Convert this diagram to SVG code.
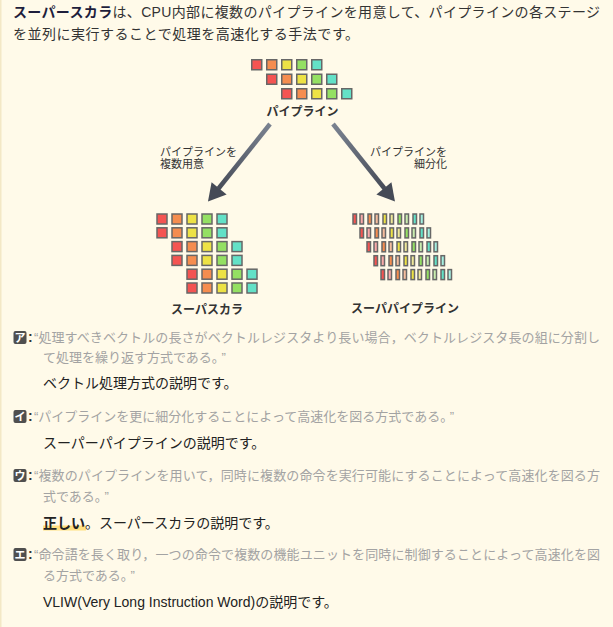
<svg xmlns="http://www.w3.org/2000/svg" width="613" height="627" viewBox="0 0 613 627">
<defs>
<style>
text{font-family:"Liberation Sans","Noto Sans CJK JP",sans-serif}
.h{font-size:14px;fill:#333}
.hb{font-weight:bold;fill:#1e1e3c}
.lbl{font-size:12px;font-weight:bold;fill:#333;text-anchor:middle}
.al{font-size:11px;fill:#333}
.q{font-size:13px;fill:#a3a3a3}
.ans{font-size:14px;fill:#222}
.b{fill:#4f4f4f}
.bt{font-size:11px;font-weight:bold;fill:#fff;text-anchor:middle}
.col{font-size:14px;font-weight:bold;fill:#333}
.sq rect{stroke:#676767;stroke-width:1.5}
.r{fill:#f45452}.o{fill:#f58d4f}.y{fill:#ede245}.g{fill:#94e063}.c{fill:#63e1c7}
.rl{fill:#f9aaa9}.ol{fill:#f5bd9d}.yl{fill:#efe899}.gl{fill:#c9edaf}.cl{fill:#a5f0e1}
</style>
<linearGradient id="gl" gradientUnits="userSpaceOnUse" x1="270" y1="124" x2="218" y2="189">
<stop offset="0" stop-color="#7a8290"/><stop offset="1" stop-color="#474c58"/>
</linearGradient>
<linearGradient id="gr" gradientUnits="userSpaceOnUse" x1="333" y1="124" x2="385" y2="189">
<stop offset="0" stop-color="#7a8290"/><stop offset="1" stop-color="#474c58"/>
</linearGradient>
</defs>
<rect width="613" height="627" fill="#fffae9"/>
<rect x="0" y="0" width="1.5" height="627" fill="#f3e8c6"/>

<g id="intro">
<text class="h" x="13" y="17" textLength="587" lengthAdjust="spacing"><tspan class="hb">スーパースカラ</tspan>は、CPU内部に複数のパイプラインを用意して、パイプラインの各ステージ</text>
<text class="h" x="13" y="39" textLength="346" lengthAdjust="spacing">を並列に実行することで処理を高速化する手法です。</text>
</g>

<g id="pipeline" class="sq">
<g transform="translate(251.75,59.75)"><rect class="r" x="0" width="10" height="10"/><rect class="o" x="15" width="10" height="10"/><rect class="y" x="30" width="10" height="10"/><rect class="g" x="45" width="10" height="10"/><rect class="c" x="60" width="10" height="10"/></g>
<g transform="translate(266.75,74.25)"><rect class="r" x="0" width="10" height="10"/><rect class="o" x="15" width="10" height="10"/><rect class="y" x="30" width="10" height="10"/><rect class="g" x="45" width="10" height="10"/><rect class="c" x="60" width="10" height="10"/></g>
<g transform="translate(281.75,88.75)"><rect class="r" x="0" width="10" height="10"/><rect class="o" x="15" width="10" height="10"/><rect class="y" x="30" width="10" height="10"/><rect class="g" x="45" width="10" height="10"/><rect class="c" x="60" width="10" height="10"/></g>
<text class="lbl" x="302.5" y="115.5">パイプライン</text>
</g>

<g id="connectors">
<line x1="270" y1="124" x2="218.5" y2="188.5" stroke="url(#gl)" stroke-width="4.5"/>
<path d="M226.6,194.5 L208,201.5 L211.6,182.3 z" fill="#454a56"/>
<line x1="333" y1="124" x2="384.5" y2="188.5" stroke="url(#gr)" stroke-width="4.5"/>
<path d="M391.4,182.3 L395,201.5 L376.4,194.5 z" fill="#454a56"/>
<text class="al" x="160" y="155.5">パイプラインを</text>
<text class="al" x="160" y="168">複数用意</text>
<text class="al" x="447" y="155.5" text-anchor="end">パイプラインを</text>
<text class="al" x="447" y="168" text-anchor="end">細分化</text>
</g>

<g id="superscalar" class="sq">
<g transform="translate(157,214)"><rect class="r" x="0" width="10" height="10"/><rect class="o" x="15" width="10" height="10"/><rect class="y" x="30" width="10" height="10"/><rect class="g" x="45" width="10" height="10"/><rect class="c" x="60" width="10" height="10"/></g>
<g transform="translate(157,227.8)"><rect class="r" x="0" width="10" height="10"/><rect class="o" x="15" width="10" height="10"/><rect class="y" x="30" width="10" height="10"/><rect class="g" x="45" width="10" height="10"/><rect class="c" x="60" width="10" height="10"/></g>
<g transform="translate(172,241.6)"><rect class="r" x="0" width="10" height="10"/><rect class="o" x="15" width="10" height="10"/><rect class="y" x="30" width="10" height="10"/><rect class="g" x="45" width="10" height="10"/><rect class="c" x="60" width="10" height="10"/></g>
<g transform="translate(172,255.4)"><rect class="r" x="0" width="10" height="10"/><rect class="o" x="15" width="10" height="10"/><rect class="y" x="30" width="10" height="10"/><rect class="g" x="45" width="10" height="10"/><rect class="c" x="60" width="10" height="10"/></g>
<g transform="translate(187,269.2)"><rect class="r" x="0" width="10" height="10"/><rect class="o" x="15" width="10" height="10"/><rect class="y" x="30" width="10" height="10"/><rect class="g" x="45" width="10" height="10"/><rect class="c" x="60" width="10" height="10"/></g>
<g transform="translate(187,283)"><rect class="r" x="0" width="10" height="10"/><rect class="o" x="15" width="10" height="10"/><rect class="y" x="30" width="10" height="10"/><rect class="g" x="45" width="10" height="10"/><rect class="c" x="60" width="10" height="10"/></g>
<text class="lbl" x="207" y="313.5">スーパスカラ</text>
</g>

<g id="superpipeline" class="sq">
<g transform="translate(353,214)"><rect class="r" x="0" width="3.5" height="10"/><rect class="rl" x="7" width="3.5" height="10"/><rect class="o" x="15" width="3.5" height="10"/><rect class="ol" x="22" width="3.5" height="10"/><rect class="y" x="30" width="3.5" height="10"/><rect class="yl" x="37" width="3.5" height="10"/><rect class="g" x="45" width="3.5" height="10"/><rect class="gl" x="52" width="3.5" height="10"/><rect class="c" x="60" width="3.5" height="10"/><rect class="cl" x="67" width="3.5" height="10"/></g>
<g transform="translate(360,227.9)"><rect class="r" x="0" width="3.5" height="10"/><rect class="rl" x="7" width="3.5" height="10"/><rect class="o" x="15" width="3.5" height="10"/><rect class="ol" x="22" width="3.5" height="10"/><rect class="y" x="30" width="3.5" height="10"/><rect class="yl" x="37" width="3.5" height="10"/><rect class="g" x="45" width="3.5" height="10"/><rect class="gl" x="52" width="3.5" height="10"/><rect class="c" x="60" width="3.5" height="10"/><rect class="cl" x="67" width="3.5" height="10"/></g>
<g transform="translate(367,241.8)"><rect class="r" x="0" width="3.5" height="10"/><rect class="rl" x="7" width="3.5" height="10"/><rect class="o" x="15" width="3.5" height="10"/><rect class="ol" x="22" width="3.5" height="10"/><rect class="y" x="30" width="3.5" height="10"/><rect class="yl" x="37" width="3.5" height="10"/><rect class="g" x="45" width="3.5" height="10"/><rect class="gl" x="52" width="3.5" height="10"/><rect class="c" x="60" width="3.5" height="10"/><rect class="cl" x="67" width="3.5" height="10"/></g>
<g transform="translate(374,255.7)"><rect class="r" x="0" width="3.5" height="10"/><rect class="rl" x="7" width="3.5" height="10"/><rect class="o" x="15" width="3.5" height="10"/><rect class="ol" x="22" width="3.5" height="10"/><rect class="y" x="30" width="3.5" height="10"/><rect class="yl" x="37" width="3.5" height="10"/><rect class="g" x="45" width="3.5" height="10"/><rect class="gl" x="52" width="3.5" height="10"/><rect class="c" x="60" width="3.5" height="10"/><rect class="cl" x="67" width="3.5" height="10"/></g>
<g transform="translate(381,269.6)"><rect class="r" x="0" width="3.5" height="10"/><rect class="rl" x="7" width="3.5" height="10"/><rect class="o" x="15" width="3.5" height="10"/><rect class="ol" x="22" width="3.5" height="10"/><rect class="y" x="30" width="3.5" height="10"/><rect class="yl" x="37" width="3.5" height="10"/><rect class="g" x="45" width="3.5" height="10"/><rect class="gl" x="52" width="3.5" height="10"/><rect class="c" x="60" width="3.5" height="10"/><rect class="cl" x="67" width="3.5" height="10"/></g>
<text class="lbl" x="405" y="313">スーパパイプライン</text>
</g>

<g id="option-a">
<rect class="b" x="13.5" y="331" width="13" height="13" rx="2"/>
<text class="bt" x="20" y="341.6">ア</text>
<text class="col" x="28" y="342">:</text>
<text class="q" x="34" y="342" textLength="566" lengthAdjust="spacing">“処理すべきベクトルの長さがベクトルレジスタより長い場合，ベクトルレジスタ長の組に分割し</text>
<text class="q" x="43" y="362">て処理を繰り返す方式である。<tspan dx="3">”</tspan></text>
<text class="ans" x="43" y="388">ベクトル処理方式の説明です。</text>
</g>

<g id="option-i">
<rect class="b" x="13.5" y="410" width="13" height="13" rx="2"/>
<text class="bt" x="20" y="420.6">イ</text>
<text class="col" x="28" y="421">:</text>
<text class="q" x="34" y="421">“パイプラインを更に細分化することによって高速化を図る方式である。<tspan dx="3">”</tspan></text>
<text class="ans" x="43" y="448">スーパーパイプラインの説明です。</text>
</g>

<g id="option-u">
<rect class="b" x="13.5" y="469" width="13" height="13" rx="2"/>
<text class="bt" x="20" y="479.6">ウ</text>
<text class="col" x="28" y="480">:</text>
<text class="q" x="34" y="480" textLength="566" lengthAdjust="spacing">“複数のパイプラインを用いて，同時に複数の命令を実行可能にすることによって高速化を図る方</text>
<text class="q" x="43" y="501">式である。<tspan dx="3">”</tspan></text>
<rect x="43" y="525.5" width="43" height="5" fill="#ffdf80"/>
<text class="ans" x="43" y="528"><tspan font-weight="bold">正しい</tspan>。スーパースカラの説明です。</text>
</g>

<g id="option-e">
<rect class="b" x="13.5" y="548" width="13" height="13" rx="2"/>
<text class="bt" x="20" y="558.6">エ</text>
<text class="col" x="28" y="559">:</text>
<text class="q" x="34" y="559" textLength="566" lengthAdjust="spacing">“命令語を長く取り，一つの命令で複数の機能ユニットを同時に制御することによって高速化を図</text>
<text class="q" x="43" y="580">る方式である。<tspan dx="3">”</tspan></text>
<text class="ans" x="43" y="607">VLIW(Very Long Instruction Word)の説明です。</text>
</g>
</svg>
